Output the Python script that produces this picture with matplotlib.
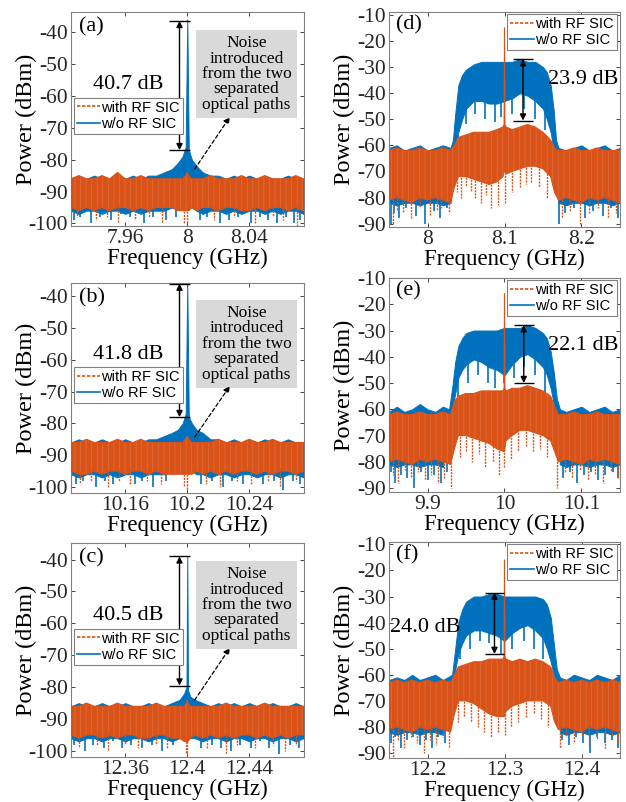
import matplotlib
matplotlib.use("Agg")
import matplotlib.pyplot as plt
from matplotlib.lines import Line2D
import numpy as np

# ---------------- data (envelopes and deep spikes) ----------------
# Panel (a) centre 8 GHz
A_F = [7.925, 7.93, 7.935, 7.94, 7.945, 7.95, 7.955, 7.96, 7.965, 7.97, 7.975, 7.98, 7.985, 7.99,
       7.994, 7.997, 7.999, 8.0, 8.001, 8.003, 8.006, 8.01, 8.015, 8.02, 8.025, 8.03, 8.035, 8.04,
       8.045, 8.05, 8.055, 8.06, 8.065, 8.07, 8.075]
A_WO_HI = [-86, -85, -86, -85, -86, -86, -85, -86, -85, -86, -85, -85, -84, -83, -81, -79, -76, -36,
           -77, -80, -82, -84, -85, -85, -86, -85, -86, -85, -86, -85, -86, -86, -85, -86, -86]
A_WO_LO = [-96, -97, -96, -96, -97, -96, -96, -97, -96, -97, -96, -96, -96, -95, -95, -95, -95, -95,
           -95, -95, -96, -97, -96, -96, -97, -96, -97, -96, -96, -97, -96, -97, -96, -96, -97]
A_W_HI = [-86, -85, -86, -86, -85, -86, -84, -86, -86, -85, -86, -86, -86, -86, -86, -86, -85, -84,
          -85, -86, -86, -86, -85, -86, -86, -86, -85, -86, -86, -85, -86, -86, -86, -85, -86]
A_W_LO = [-95, -96, -95, -96, -95, -96, -95, -95, -96, -95, -96, -95, -95, -95, -96, -96, -96, -96,
          -96, -95, -96, -95, -95, -96, -95, -95, -96, -96, -95, -96, -95, -95, -96, -95, -96]
A_WO_SPK_F = [7.927, 7.931, 7.938, 7.944, 7.951, 7.957, 7.963, 7.972, 7.978, 7.986, 7.993, 8.008,
              8.013, 8.021, 8.027, 8.033, 8.041, 8.047, 8.052, 8.058, 8.064, 8.069, 8.073]
A_WO_SPK_DB = [-99, -98, -100, -98, -99, -97, -98, -100, -98, -99, -98, -99, -98, -100, -99, -98,
               -100, -98, -99, -100, -98, -100, -99]
A_W_SPK_F = [7.929, 7.941, 7.948, 7.955, 7.966, 7.975, 7.984, 7.998, 8.0, 8.017, 8.03, 8.044,
             8.055, 8.062, 8.071]
A_W_SPK_DB = [-98, -99, -98, -100, -99, -98, -100, -100, -101, -99, -98, -100, -98, -99, -101]

# Panel (b) centre 10.2 GHz
B_F = [10.125, 10.13, 10.135, 10.14, 10.145, 10.15, 10.155, 10.16, 10.165, 10.17, 10.175, 10.18,
       10.185, 10.19, 10.194, 10.197, 10.199, 10.2, 10.201, 10.203, 10.206, 10.21, 10.215, 10.22,
       10.225, 10.23, 10.235, 10.24, 10.245, 10.25, 10.255, 10.26, 10.265, 10.27, 10.275]
B_WO_HI = [-86, -85, -86, -86, -85, -86, -86, -85, -86, -86, -85, -85, -84, -83, -82, -80, -77, -36,
           -78, -80, -82, -83, -85, -85, -86, -85, -86, -85, -86, -85, -86, -86, -85, -86, -86]
B_WO_LO = [-96, -97, -96, -96, -97, -96, -97, -96, -96, -97, -96, -96, -96, -95, -95, -95, -95, -95,
           -95, -95, -96, -96, -97, -96, -96, -97, -96, -96, -97, -96, -96, -97, -96, -96, -97]
B_W_HI = [-86, -86, -85, -86, -86, -86, -85, -86, -86, -85, -86, -86, -86, -86, -86, -86, -85, -84,
          -85, -86, -86, -86, -86, -85, -86, -86, -86, -85, -86, -86, -85, -86, -86, -86, -86]
B_W_LO = [-95, -96, -96, -95, -96, -95, -95, -96, -95, -95, -96, -95, -96, -96, -96, -96, -96, -96,
          -96, -96, -95, -96, -95, -96, -95, -96, -95, -95, -96, -95, -96, -95, -95, -96, -95]
B_WO_SPK_F = [10.128, 10.133, 10.141, 10.147, 10.152, 10.158, 10.166, 10.171, 10.178, 10.186,
              10.209, 10.216, 10.223, 10.229, 10.236, 10.243, 10.249, 10.256, 10.262, 10.268, 10.273]
B_WO_SPK_DB = [-99, -98, -100, -98, -99, -97, -99, -98, -100, -98, -99, -98, -100, -98, -99, -97,
               -99, -98, -101, -98, -99]
B_W_SPK_F = [10.131, 10.138, 10.149, 10.156, 10.163, 10.174, 10.183, 10.198, 10.2, 10.212, 10.221,
             10.232, 10.241, 10.252, 10.26, 10.27]
B_W_SPK_DB = [-99, -98, -100, -98, -99, -98, -99, -100, -101, -99, -100, -98, -99, -98, -100, -98]

# Panel (c) centre 12.4 GHz
C_F = [12.325, 12.33, 12.335, 12.34, 12.345, 12.35, 12.355, 12.36, 12.365, 12.37, 12.375, 12.38,
       12.385, 12.39, 12.395, 12.398, 12.3995, 12.4, 12.4005, 12.402, 12.405, 12.41, 12.415, 12.42,
       12.425, 12.43, 12.435, 12.44, 12.445, 12.45, 12.455, 12.46, 12.465, 12.47, 12.475]
C_WO_HI = [-86, -85, -86, -86, -85, -86, -86, -85, -86, -86, -85, -86, -86, -85, -84, -82, -80, -39,
           -81, -83, -84, -85, -86, -85, -86, -85, -86, -85, -86, -86, -85, -86, -86, -85, -86]
C_WO_LO = [-96, -97, -96, -96, -97, -96, -96, -97, -96, -96, -97, -96, -96, -97, -96, -96, -96, -96,
           -96, -96, -96, -97, -96, -96, -97, -96, -96, -97, -96, -96, -97, -96, -96, -97, -96]
C_W_HI = [-86, -86, -85, -86, -86, -86, -85, -86, -86, -86, -86, -85, -86, -86, -86, -86, -85, -84,
          -85, -86, -86, -86, -86, -86, -85, -86, -86, -86, -86, -85, -86, -86, -86, -86, -86]
C_W_LO = [-95, -96, -95, -95, -96, -95, -96, -95, -95, -96, -96, -95, -95, -96, -96, -97, -97, -97,
          -97, -96, -95, -96, -95, -96, -95, -96, -95, -95, -96, -95, -96, -95, -96, -95, -95]
C_WO_SPK_F = [12.327, 12.334, 12.339, 12.346, 12.352, 12.358, 12.364, 12.371, 12.377, 12.384,
              12.391, 12.409, 12.416, 12.422, 12.428, 12.434, 12.441, 12.447, 12.453, 12.459,
              12.466, 12.472]
C_WO_SPK_DB = [-98, -100, -98, -99, -97, -99, -98, -99, -98, -100, -98, -99, -98, -99, -100, -98,
               -99, -97, -99, -101, -98, -99]
C_W_SPK_F = [12.33, 12.342, 12.349, 12.36, 12.368, 12.38, 12.387, 12.399, 12.4, 12.413, 12.425,
             12.432, 12.444, 12.455, 12.463, 12.47]
C_W_SPK_DB = [-99, -98, -100, -98, -99, -98, -99, -101, -102, -99, -101, -98, -99, -98, -100, -98]

# Panel (d) centre 8.1 GHz, wideband
D_F_WO = [7.95, 7.96, 7.97, 7.98, 7.99, 8.0, 8.01, 8.02, 8.03, 8.033, 8.036, 8.04, 8.045, 8.05, 8.06,
          8.07, 8.08, 8.09, 8.1, 8.11, 8.12, 8.13, 8.14, 8.15, 8.155, 8.16, 8.164, 8.167, 8.17, 8.18,
          8.19, 8.2, 8.21, 8.22, 8.23, 8.24, 8.25]
D_WO_HI = [-61, -60, -62, -61, -60, -62, -61, -60, -61, -58, -48, -37, -33, -31, -29, -28, -28, -28,
           -28, -28, -27, -28, -28, -30, -32, -37, -47, -58, -61, -62, -61, -60, -62, -61, -60, -62, -61]
D_WO_LO = [-82, -83, -82, -82, -83, -82, -82, -83, -82, -64, -60, -55, -50, -46, -43, -43, -44, -44,
           -43, -42, -40, -41, -43, -46, -50, -55, -62, -70, -82, -83, -82, -82, -83, -82, -82, -83, -82]
D_F_W = [7.95, 7.96, 7.97, 7.98, 7.99, 8.0, 8.01, 8.02, 8.03, 8.035, 8.04, 8.05, 8.06, 8.07, 8.08,
         8.09, 8.098, 8.0995, 8.1, 8.1005, 8.102, 8.11, 8.12, 8.13, 8.14, 8.15, 8.16, 8.165, 8.17,
         8.18, 8.19, 8.2, 8.21, 8.22, 8.23, 8.24, 8.25]
D_W_HI = [-62, -61, -62, -62, -61, -62, -62, -61, -62, -60, -57, -56, -55, -55, -55, -54, -53, -52,
          -15, -52, -53, -54, -53, -52, -53, -55, -58, -61, -62, -62, -61, -62, -62, -61, -62, -62, -62]
D_W_LO = [-81, -80, -81, -82, -80, -81, -80, -81, -82, -76, -72, -72, -73, -74, -75, -74, -72, -70,
          -70, -70, -71, -70, -69, -68, -68, -69, -72, -78, -81, -80, -81, -82, -80, -81, -80, -81, -82]
D_WO_SPK_F = [7.952, 7.957, 7.963, 7.972, 7.985, 7.997, 8.008, 8.016, 8.025, 8.04, 8.05, 8.062,
              8.075, 8.088, 8.095, 8.11, 8.125, 8.14, 8.152, 8.171, 8.178, 8.19, 8.205, 8.215,
              8.228, 8.238, 8.247]
D_WO_SPK_DB = [-90, -86, -88, -84, -87, -90, -85, -88, -84, -58, -52, -48, -50, -51, -49, -48, -46,
               -50, -54, -90, -86, -84, -88, -85, -87, -84, -88]
D_W_SPK_F = [7.955, 7.961, 7.968, 7.978, 7.99, 8.003, 8.012, 8.018, 8.028, 8.038, 8.044, 8.05,
             8.056, 8.062, 8.07, 8.076, 8.083, 8.092, 8.1, 8.11, 8.12, 8.128, 8.135, 8.145, 8.155,
             8.175, 8.185, 8.198, 8.21, 8.222, 8.235, 8.245]
D_W_SPK_DB = [-90, -85, -86, -88, -84, -87, -85, -84, -86, -78, -80, -76, -78, -80, -82, -79, -84,
              -83, -82, -78, -76, -75, -74, -76, -80, -88, -85, -90, -86, -84, -88, -86]

# Panel (e) centre 10 GHz, wideband
E_F_WO = [9.85, 9.86, 9.87, 9.88, 9.89, 9.9, 9.91, 9.92, 9.928, 9.932, 9.936, 9.94, 9.945, 9.95, 9.96,
          9.97, 9.98, 9.99, 10.0, 10.01, 10.02, 10.03, 10.04, 10.05, 10.055, 10.06, 10.064, 10.068,
          10.072, 10.08, 10.09, 10.1, 10.11, 10.12, 10.13, 10.14, 10.15]
E_WO_HI = [-61, -59, -61, -60, -58, -60, -61, -59, -60, -52, -42, -36, -33, -31, -30, -30, -30, -30,
           -29, -29, -29, -28, -29, -31, -33, -38, -46, -56, -60, -61, -60, -59, -61, -60, -59, -61, -60]
E_WO_LO = [-81, -82, -81, -81, -82, -81, -81, -82, -64, -60, -54, -48, -45, -43, -41, -42, -44, -45,
           -47, -43, -40, -39, -41, -44, -47, -52, -58, -64, -81, -82, -81, -81, -82, -81, -81, -82, -81]
E_F_W = [9.85, 9.86, 9.87, 9.88, 9.89, 9.9, 9.91, 9.92, 9.93, 9.935, 9.94, 9.95, 9.96, 9.97, 9.98,
         9.99, 9.998, 9.9995, 10.0, 10.0005, 10.002, 10.01, 10.02, 10.03, 10.04, 10.05, 10.06, 10.065,
         10.07, 10.08, 10.09, 10.1, 10.11, 10.12, 10.13, 10.14, 10.15]
E_W_HI = [-62, -61, -62, -62, -61, -62, -62, -61, -62, -57, -55, -54, -54, -53, -53, -53, -53, -52,
          -16, -52, -53, -52, -52, -51, -52, -53, -55, -59, -62, -62, -61, -62, -62, -61, -62, -62, -62]
E_W_LO = [-80, -79, -80, -81, -79, -80, -79, -80, -81, -75, -70, -70, -71, -72, -73, -75, -76, -76,
          -76, -75, -72, -70, -68, -68, -69, -70, -72, -76, -80, -79, -80, -81, -79, -80, -79, -80, -81]
E_WO_SPK_F = [9.852, 9.858, 9.866, 9.874, 9.883, 9.892, 9.901, 9.908, 9.917, 9.925, 9.94, 9.952,
              9.965, 9.978, 9.988, 10.0, 10.012, 10.025, 10.04, 10.052, 10.076, 10.085, 10.094,
              10.103, 10.112, 10.121, 10.13, 10.141, 10.148]
E_WO_SPK_DB = [-84, -88, -85, -86, -90, -84, -87, -85, -88, -84, -56, -50, -47, -50, -52, -50, -48,
               -44, -47, -54, -86, -84, -88, -85, -84, -87, -85, -84, -86]
E_W_SPK_F = [9.855, 9.862, 9.871, 9.879, 9.888, 9.897, 9.905, 9.913, 9.922, 9.93, 9.942, 9.95,
             9.958, 9.967, 9.975, 9.985, 9.993, 10.0, 10.008, 10.018, 10.028, 10.037, 10.046, 10.055,
             10.068, 10.078, 10.088, 10.098, 10.108, 10.118, 10.128, 10.138, 10.147]
E_W_SPK_DB = [-85, -88, -83, -86, -84, -87, -85, -88, -86, -90, -78, -76, -80, -77, -82, -80, -85,
              -82, -79, -76, -74, -76, -75, -78, -90, -84, -86, -83, -87, -85, -88, -84, -86]

# Panel (f) centre 12.3 GHz, wideband
F_F_WO = [12.15, 12.16, 12.17, 12.18, 12.19, 12.2, 12.21, 12.22, 12.232, 12.236, 12.24, 12.245, 12.25,
          12.26, 12.27, 12.28, 12.29, 12.3, 12.31, 12.32, 12.33, 12.34, 12.35, 12.355, 12.36, 12.364,
          12.368, 12.372, 12.38, 12.39, 12.4, 12.41, 12.42, 12.43, 12.44, 12.45]
F_WO_HI = [-62, -61, -62, -60, -62, -61, -60, -62, -60, -50, -40, -35, -32, -30, -30, -29, -29, -30,
           -30, -30, -30, -30, -31, -33, -38, -48, -58, -61, -62, -60, -61, -62, -60, -61, -62, -60]
F_WO_LO = [-82, -83, -82, -82, -83, -82, -82, -83, -64, -58, -52, -48, -45, -43, -43, -44, -45, -47,
           -44, -42, -41, -43, -46, -50, -55, -60, -64, -82, -83, -82, -82, -83, -82, -82, -83, -82]
F_F_W = [12.15, 12.16, 12.17, 12.18, 12.19, 12.2, 12.21, 12.22, 12.23, 12.235, 12.24, 12.25, 12.26,
         12.27, 12.28, 12.29, 12.298, 12.2995, 12.3, 12.3005, 12.302, 12.31, 12.32, 12.33, 12.34,
         12.35, 12.36, 12.365, 12.37, 12.38, 12.39, 12.4, 12.41, 12.42, 12.43, 12.44, 12.45]
F_W_HI = [-63, -62, -63, -62, -63, -62, -63, -62, -63, -60, -57, -56, -55, -55, -54, -54, -54, -53,
          -16, -53, -54, -55, -54, -55, -54, -55, -57, -61, -63, -62, -63, -62, -63, -62, -63, -62, -63]
F_W_LO = [-81, -80, -81, -82, -80, -81, -80, -81, -82, -75, -70, -70, -71, -73, -75, -76, -76, -76,
          -76, -75, -74, -72, -71, -70, -70, -70, -72, -78, -81, -80, -81, -82, -80, -81, -80, -81, -82]
F_WO_SPK_F = [12.152, 12.158, 12.165, 12.173, 12.181, 12.19, 12.198, 12.206, 12.214, 12.223,
              12.242, 12.255, 12.268, 12.28, 12.295, 12.31, 12.325, 12.338, 12.35, 12.375, 12.384,
              12.393, 12.402, 12.411, 12.42, 12.43, 12.44, 12.447]
F_WO_SPK_DB = [-86, -84, -88, -85, -84, -87, -85, -88, -84, -86, -54, -50, -47, -48, -52, -50, -47,
               -50, -54, -85, -87, -84, -86, -90, -84, -86, -85, -88]
F_W_SPK_F = [12.155, 12.162, 12.17, 12.178, 12.186, 12.195, 12.203, 12.211, 12.22, 12.228, 12.24,
             12.248, 12.256, 12.265, 12.274, 12.283, 12.292, 12.3, 12.308, 12.318, 12.328, 12.338,
             12.348, 12.356, 12.372, 12.38, 12.39, 12.4, 12.41, 12.42, 12.43, 12.44, 12.448]
F_W_SPK_DB = [-92, -85, -88, -84, -86, -90, -85, -87, -84, -88, -78, -76, -78, -80, -82, -84, -82,
              -83, -80, -78, -76, -75, -77, -80, -88, -84, -86, -83, -87, -85, -88, -84, -86]

# suppression annotations: (arrow freq, top level, bottom level, label)
SUPP_FREQ = [7.995, 10.195, 12.395, 8.124, 10.025, 12.287]
SUPP_TOP = [-36.5, -36, -39, -27, -28, -28.5]
SUPP_BOT = [-77, -78, -79.5, -50.5, -50, -52]
SUPP_TEXT = ["40.7 dB", "41.8 dB", "40.5 dB", "23.9 dB", "22.1 dB", "24.0 dB"]

XTICKS = [[7.96, 8.0, 8.04], [10.16, 10.2, 10.24], [12.36, 12.4, 12.44],
          [8.0, 8.1, 8.2], [9.9, 10.0, 10.1], [12.2, 12.3, 12.4]]
XTICKLABELS = [["7.96", "8", "8.04"], ["10.16", "10.2", "10.24"], ["12.36", "12.4", "12.44"],
               ["8", "8.1", "8.2"], ["9.9", "10", "10.1"], ["12.2", "12.3", "12.4"]]
PANEL_LABELS = ["(a)", "(b)", "(c)", "(d)", "(e)", "(f)"]

# ---------------- style ----------------
BLUE = "#0072BD"
ORANGE = "#D95319"
SERIF = ["Liberation Serif", "DejaVu Serif"]
SANS = ["Liberation Sans", "DejaVu Sans"]
plt.rcParams["font.family"] = SERIF
plt.rcParams["axes.unicode_minus"] = False
plt.rcParams["hatch.linewidth"] = 0.4

fig = plt.figure(figsize=(6.26, 8.02), dpi=100)
W, H = 626.0, 802.0
boxes = [(71, 12, 303.5, 226), (71, 283, 303.5, 493), (71, 543, 303.5, 757),
         (389, 12, 620, 227), (389, 278, 620, 492), (389, 542, 620, 758)]
xlims = [(7.925, 8.075), (10.125, 10.275), (12.325, 12.475),
         (7.95, 8.25), (9.85, 10.15), (12.15, 12.45)]
ylims = [(-100.8, -33.7), (-101.9, -35.8), (-101.9, -34.8),
         (-91.3, -8.9), (-91.5, -10), (-91.9, -9.1)]

data = [
    (A_F, A_WO_HI, A_WO_LO, A_F, A_W_HI, A_W_LO, A_WO_SPK_F, A_WO_SPK_DB, A_W_SPK_F, A_W_SPK_DB),
    (B_F, B_WO_HI, B_WO_LO, B_F, B_W_HI, B_W_LO, B_WO_SPK_F, B_WO_SPK_DB, B_W_SPK_F, B_W_SPK_DB),
    (C_F, C_WO_HI, C_WO_LO, C_F, C_W_HI, C_W_LO, C_WO_SPK_F, C_WO_SPK_DB, C_W_SPK_F, C_W_SPK_DB),
    (D_F_WO, D_WO_HI, D_WO_LO, D_F_W, D_W_HI, D_W_LO, D_WO_SPK_F, D_WO_SPK_DB, D_W_SPK_F, D_W_SPK_DB),
    (E_F_WO, E_WO_HI, E_WO_LO, E_F_W, E_W_HI, E_W_LO, E_WO_SPK_F, E_WO_SPK_DB, E_W_SPK_F, E_W_SPK_DB),
    (F_F_WO, F_WO_HI, F_WO_LO, F_F_W, F_W_HI, F_W_LO, F_WO_SPK_F, F_WO_SPK_DB, F_W_SPK_F, F_W_SPK_DB),
]

for i in range(6):
    l, t, r, b = boxes[i]
    ax = fig.add_axes([l / W, 1 - b / H, (r - l) / W, (b - t) / H])
    fwo, hwo, lwo, fw, hw, lw_, swf, swd, sf, sd = data[i]
    # w/o RF SIC (blue, solid)
    ax.fill_between(fwo, lwo, hwo, color=BLUE, lw=0.7, zorder=2)
    start = np.interp(swf, fwo, lwo) + 1.0
    ax.vlines(swf, start, swd, color=BLUE, lw=1.2, zorder=2)
    # with RF SIC (orange, dotted texture)
    ax.fill_between(fw, lw_, hw, facecolor=ORANGE, edgecolor=(1, 1, 1, 0.2), lw=0,
                    hatch="|||", zorder=3)
    ax.plot(fw, hw, color=ORANGE, lw=0.8, zorder=3)
    ax.plot(fw, lw_, color=ORANGE, lw=0.8, zorder=3)
    start = np.interp(sf, fw, lw_) + 1.0
    ax.vlines(sf, start, sd, color=ORANGE, lw=1.0, linestyles=(0, (1.5, 0.8)), zorder=3)

    ax.set_xlim(*xlims[i])
    ax.set_ylim(*ylims[i])
    ax.set_xticks(XTICKS[i])
    ax.set_xticklabels(XTICKLABELS[i])
    if i < 3:
        ax.set_yticks(range(-100, -39, 10))
    else:
        ax.set_yticks(range(-90, -9, 10))
    ax.tick_params(direction="in", top=True, right=True, labelsize=15.5, length=3,
                   width=0.6, colors="#262626", pad=2)
    for sp in ax.spines.values():
        sp.set_color("#808080")
        sp.set_linewidth(0.8)
    ax.set_xlabel("Frequency (GHz)", fontsize=16.5, labelpad=0)
    ax.set_ylabel("Power (dBm)", fontsize=17.5)
    ax.yaxis.set_label_coords(-0.148, 0.5)

    ax.text(0.035 if i < 3 else 0.03, 0.93 if i < 3 else 0.94, PANEL_LABELS[i],
            transform=ax.transAxes, fontsize=16, va="center", ha="left", zorder=6)

    fx = SUPP_FREQ[i]
    span = xlims[i][1] - xlims[i][0]
    cap = 0.085 * span * (0.55 if i < 3 else 0.5)
    ax.hlines([SUPP_TOP[i], SUPP_BOT[i]], fx - cap, fx + cap, color="black", lw=1.0, zorder=6)
    ax.annotate("", xy=(fx, SUPP_BOT[i]), xytext=(fx, SUPP_TOP[i]),
                arrowprops=dict(arrowstyle="<|-|>", color="black", lw=1.0,
                                shrinkA=0, shrinkB=0, mutation_scale=9), zorder=6)
    if i < 3:
        ax.text(0.245, 0.66, SUPP_TEXT[i], transform=ax.transAxes, fontsize=16,
                ha="center", va="center", zorder=6)
        ax.text(0.755, 0.71,
                "Noise\nintroduced\nfrom the two\nseparated\noptical paths",
                transform=ax.transAxes, fontsize=12.5, ha="center", va="center",
                linespacing=0.95, zorder=6,
                bbox=dict(boxstyle="square,pad=0.3", fc="#d9d9d9", ec="none"))
        ax.annotate("", xy=(0.69, 0.52), xytext=(0.525, 0.255),
                    xycoords="axes fraction",
                    arrowprops=dict(arrowstyle="-|>", color="black", lw=0.9,
                                    linestyle=(0, (3, 2)), mutation_scale=9), zorder=6)
        leg_loc = dict(loc="upper left", bbox_to_anchor=(0.012, 0.60))
    else:
        if i == 5:
            ax.text(0.005, 0.605, SUPP_TEXT[i], transform=ax.transAxes, fontsize=16,
                    ha="left", va="center", zorder=6)
        else:
            ax.text(0.69, 0.685, SUPP_TEXT[i], transform=ax.transAxes, fontsize=16,
                    ha="left", va="center", zorder=6)
        leg_loc = dict(loc="upper right", bbox_to_anchor=(0.985, 0.99))

    handles = [Line2D([], [], color=ORANGE, ls=(0, (2, 1)), lw=1.2),
               Line2D([], [], color=BLUE, ls="-", lw=1.2)]
    leg = ax.legend(handles, ["with RF SIC", "w/o RF SIC"], prop={"family": SANS, "size": 10.5},
                    frameon=True, fancybox=False, edgecolor="#808080", framealpha=1,
                    handlelength=1.6, handletextpad=0.1, borderpad=0.2, labelspacing=0.15,
                    borderaxespad=0, **leg_loc)
    leg.get_frame().set_linewidth(0.8)
    leg.set_zorder(7)

fig.savefig("out.png", dpi=100)
